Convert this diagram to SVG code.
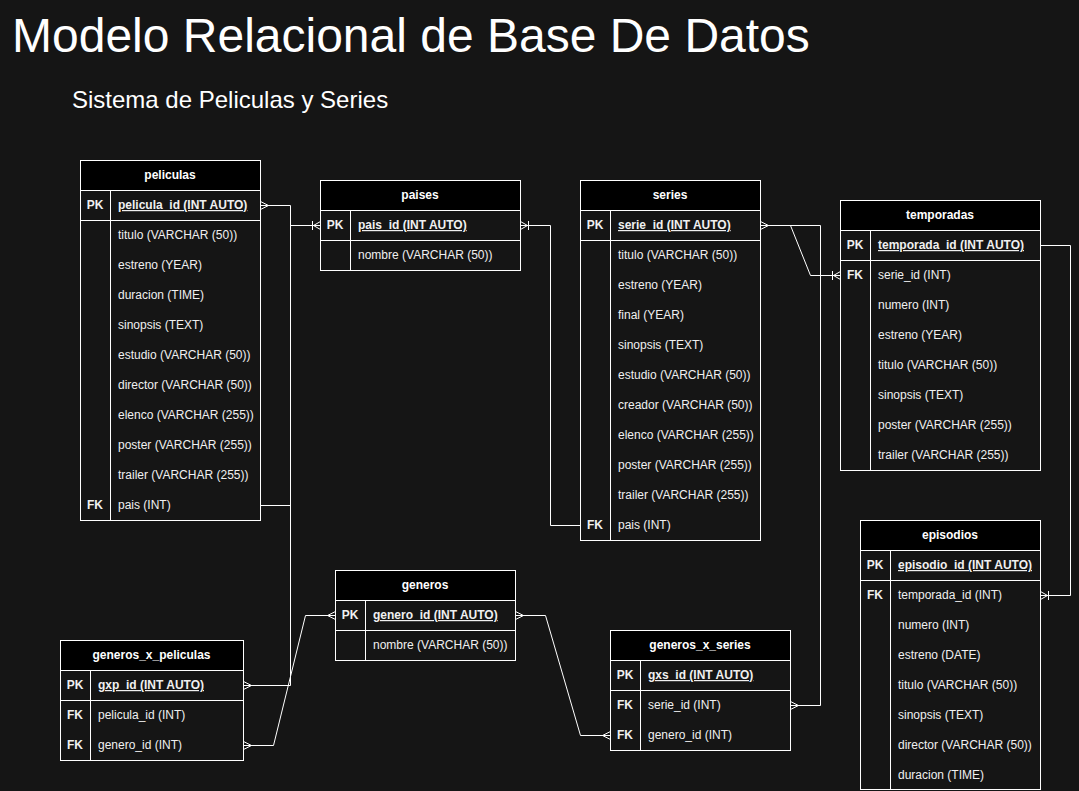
<svg xmlns="http://www.w3.org/2000/svg" width="1079" height="791" viewBox="0 0 1079 791">
<style>
.bg{fill:#151515}
.hd{fill:#000;stroke:#fff;stroke-width:1}
.bd{fill:none;stroke:#fff;stroke-width:1}
.ln{stroke:#fff;stroke-width:1;fill:none}
text{font-family:"Liberation Sans",Arial,sans-serif;fill:#f0f0f0}
.t{font-size:12px;font-weight:bold;text-anchor:middle;fill:#fff}
.k{font-size:12px;font-weight:bold;text-anchor:middle}
.f{font-size:12px}
.p{font-size:12px;font-weight:bold;text-decoration:underline}
.title{font-size:48px;fill:#fff}
.sub{font-size:24px;fill:#fff}
.c{stroke:#fff;stroke-width:1;fill:none}
</style>
<defs>
<marker id="many" markerUnits="userSpaceOnUse" orient="auto-start-reverse" overflow="visible" markerWidth="10" markerHeight="10" refX="0" refY="0">
<path d="M0,-4 L-8,0 L0,4 M0,0 L-8,0" fill="none" stroke="#fff" stroke-width="1"/>
</marker>
<marker id="oneMany" markerUnits="userSpaceOnUse" orient="auto-start-reverse" overflow="visible" markerWidth="10" markerHeight="10" refX="0" refY="0">
<path d="M0,-4 L-7,0 L0,4 M0,0 L-7,0 M-8,-4.5 L-8,4.5" fill="none" stroke="#fff" stroke-width="1"/>
</marker>
</defs>
<rect class="bg" x="0" y="0" width="1079" height="791"/>
<text class="title" x="12" y="52">Modelo Relacional de Base De Datos</text>
<text class="sub" x="72" y="108">Sistema de Peliculas y Series</text>

<g id="connectors" transform="translate(0.5,0.5)">
<path class="c" d="M260,205 H290 V685 H243" marker-start="url(#many)" marker-end="url(#many)"/>
<path class="c" d="M260,505 H290 V225 H320" marker-end="url(#oneMany)"/>
<path class="c" d="M520,225 H550 V525 H580" marker-start="url(#oneMany)"/>
<path class="c" d="M760,225 H790 L810,275 H840" marker-start="url(#many)" marker-end="url(#oneMany)"/>
<path class="c" d="M760,225 H820 V705 H790" marker-end="url(#many)"/>
<path class="c" d="M1040,245 H1070 V595 H1040" marker-end="url(#oneMany)"/>
<path class="c" d="M515,615 H545 L580,735 H610" marker-start="url(#many)" marker-end="url(#many)"/>
<path class="c" d="M335,615 H305 L273,745 H243" marker-start="url(#many)" marker-end="url(#many)"/>
</g>

<g id="peliculas">
<g transform="translate(0.5,0.5)">
<rect class="hd" x="80" y="160" width="180" height="30"/>
<rect class="bd" x="80" y="190" width="180" height="330"/>
<line class="ln" x1="80" y1="220" x2="260" y2="220"/>
<line class="ln" x1="110" y1="190" x2="110" y2="520"/>
</g>
<text class="t" x="170" y="179">peliculas</text>
<text class="k" x="95" y="209">PK</text>
<text class="p" x="118" y="209">pelicula_id (INT AUTO)</text>
<text class="f" x="118" y="239">titulo (VARCHAR (50))</text>
<text class="f" x="118" y="269">estreno (YEAR)</text>
<text class="f" x="118" y="299">duracion (TIME)</text>
<text class="f" x="118" y="329">sinopsis (TEXT)</text>
<text class="f" x="118" y="359">estudio (VARCHAR (50))</text>
<text class="f" x="118" y="389">director (VARCHAR (50))</text>
<text class="f" x="118" y="419">elenco (VARCHAR (255))</text>
<text class="f" x="118" y="449">poster (VARCHAR (255))</text>
<text class="f" x="118" y="479">trailer (VARCHAR (255))</text>
<text class="k" x="95" y="509">FK</text>
<text class="f" x="118" y="509">pais (INT)</text>
</g>

<g id="paises">
<g transform="translate(0.5,0.5)">
<rect class="hd" x="320" y="180" width="200" height="30"/>
<rect class="bd" x="320" y="210" width="200" height="60"/>
<line class="ln" x1="320" y1="240" x2="520" y2="240"/>
<line class="ln" x1="350" y1="210" x2="350" y2="270"/>
</g>
<text class="t" x="420" y="199">paises</text>
<text class="k" x="335" y="229">PK</text>
<text class="p" x="358" y="229">pais_id (INT AUTO)</text>
<text class="f" x="358" y="259">nombre (VARCHAR (50))</text>
</g>

<g id="series">
<g transform="translate(0.5,0.5)">
<rect class="hd" x="580" y="180" width="180" height="30"/>
<rect class="bd" x="580" y="210" width="180" height="330"/>
<line class="ln" x1="580" y1="240" x2="760" y2="240"/>
<line class="ln" x1="610" y1="210" x2="610" y2="540"/>
</g>
<text class="t" x="670" y="199">series</text>
<text class="k" x="595" y="229">PK</text>
<text class="p" x="618" y="229">serie_id (INT AUTO)</text>
<text class="f" x="618" y="259">titulo (VARCHAR (50))</text>
<text class="f" x="618" y="289">estreno (YEAR)</text>
<text class="f" x="618" y="319">final (YEAR)</text>
<text class="f" x="618" y="349">sinopsis (TEXT)</text>
<text class="f" x="618" y="379">estudio (VARCHAR (50))</text>
<text class="f" x="618" y="409">creador (VARCHAR (50))</text>
<text class="f" x="618" y="439">elenco (VARCHAR (255))</text>
<text class="f" x="618" y="469">poster (VARCHAR (255))</text>
<text class="f" x="618" y="499">trailer (VARCHAR (255))</text>
<text class="k" x="595" y="529">FK</text>
<text class="f" x="618" y="529">pais (INT)</text>
</g>

<g id="temporadas">
<g transform="translate(0.5,0.5)">
<rect class="hd" x="840" y="200" width="200" height="30"/>
<rect class="bd" x="840" y="230" width="200" height="240"/>
<line class="ln" x1="840" y1="260" x2="1040" y2="260"/>
<line class="ln" x1="870" y1="230" x2="870" y2="470"/>
</g>
<text class="t" x="940" y="219">temporadas</text>
<text class="k" x="855" y="249">PK</text>
<text class="p" x="878" y="249">temporada_id (INT AUTO)</text>
<text class="k" x="855" y="279">FK</text>
<text class="f" x="878" y="279">serie_id (INT)</text>
<text class="f" x="878" y="309">numero (INT)</text>
<text class="f" x="878" y="339">estreno (YEAR)</text>
<text class="f" x="878" y="369">titulo (VARCHAR (50))</text>
<text class="f" x="878" y="399">sinopsis (TEXT)</text>
<text class="f" x="878" y="429">poster (VARCHAR (255))</text>
<text class="f" x="878" y="459">trailer (VARCHAR (255))</text>
</g>

<g id="episodios">
<g transform="translate(0.5,0.5)">
<rect class="hd" x="860" y="520" width="180" height="30"/>
<rect class="bd" x="860" y="550" width="180" height="239"/>
<line class="ln" x1="860" y1="580" x2="1040" y2="580"/>
<line class="ln" x1="890" y1="550" x2="890" y2="789"/>
</g>
<text class="t" x="950" y="539">episodios</text>
<text class="k" x="875" y="569">PK</text>
<text class="p" x="898" y="569">episodio_id (INT AUTO)</text>
<text class="k" x="875" y="599">FK</text>
<text class="f" x="898" y="599">temporada_id (INT)</text>
<text class="f" x="898" y="629">numero (INT)</text>
<text class="f" x="898" y="659">estreno (DATE)</text>
<text class="f" x="898" y="689">titulo (VARCHAR (50))</text>
<text class="f" x="898" y="719">sinopsis (TEXT)</text>
<text class="f" x="898" y="749">director (VARCHAR (50))</text>
<text class="f" x="898" y="779">duracion (TIME)</text>
</g>

<g id="generos">
<g transform="translate(0.5,0.5)">
<rect class="hd" x="335" y="570" width="180" height="30"/>
<rect class="bd" x="335" y="600" width="180" height="60"/>
<line class="ln" x1="335" y1="630" x2="515" y2="630"/>
<line class="ln" x1="365" y1="600" x2="365" y2="660"/>
</g>
<text class="t" x="425" y="589">generos</text>
<text class="k" x="350" y="619">PK</text>
<text class="p" x="373" y="619">genero_id (INT AUTO)</text>
<text class="f" x="373" y="649">nombre (VARCHAR (50))</text>
</g>

<g id="generos_x_peliculas">
<g transform="translate(0.5,0.5)">
<rect class="hd" x="60" y="640" width="183" height="30"/>
<rect class="bd" x="60" y="670" width="183" height="90"/>
<line class="ln" x1="60" y1="700" x2="243" y2="700"/>
<line class="ln" x1="90" y1="670" x2="90" y2="760"/>
</g>
<text class="t" x="151.5" y="659">generos_x_peliculas</text>
<text class="k" x="75" y="689">PK</text>
<text class="p" x="98" y="689">gxp_id (INT AUTO)</text>
<text class="k" x="75" y="719">FK</text>
<text class="f" x="98" y="719">pelicula_id (INT)</text>
<text class="k" x="75" y="749">FK</text>
<text class="f" x="98" y="749">genero_id (INT)</text>
</g>

<g id="generos_x_series">
<g transform="translate(0.5,0.5)">
<rect class="hd" x="610" y="630" width="180" height="30"/>
<rect class="bd" x="610" y="660" width="180" height="90"/>
<line class="ln" x1="610" y1="690" x2="790" y2="690"/>
<line class="ln" x1="640" y1="660" x2="640" y2="750"/>
</g>
<text class="t" x="700" y="649">generos_x_series</text>
<text class="k" x="625" y="679">PK</text>
<text class="p" x="648" y="679">gxs_id (INT AUTO)</text>
<text class="k" x="625" y="709">FK</text>
<text class="f" x="648" y="709">serie_id (INT)</text>
<text class="k" x="625" y="739">FK</text>
<text class="f" x="648" y="739">genero_id (INT)</text>
</g>
</svg>
